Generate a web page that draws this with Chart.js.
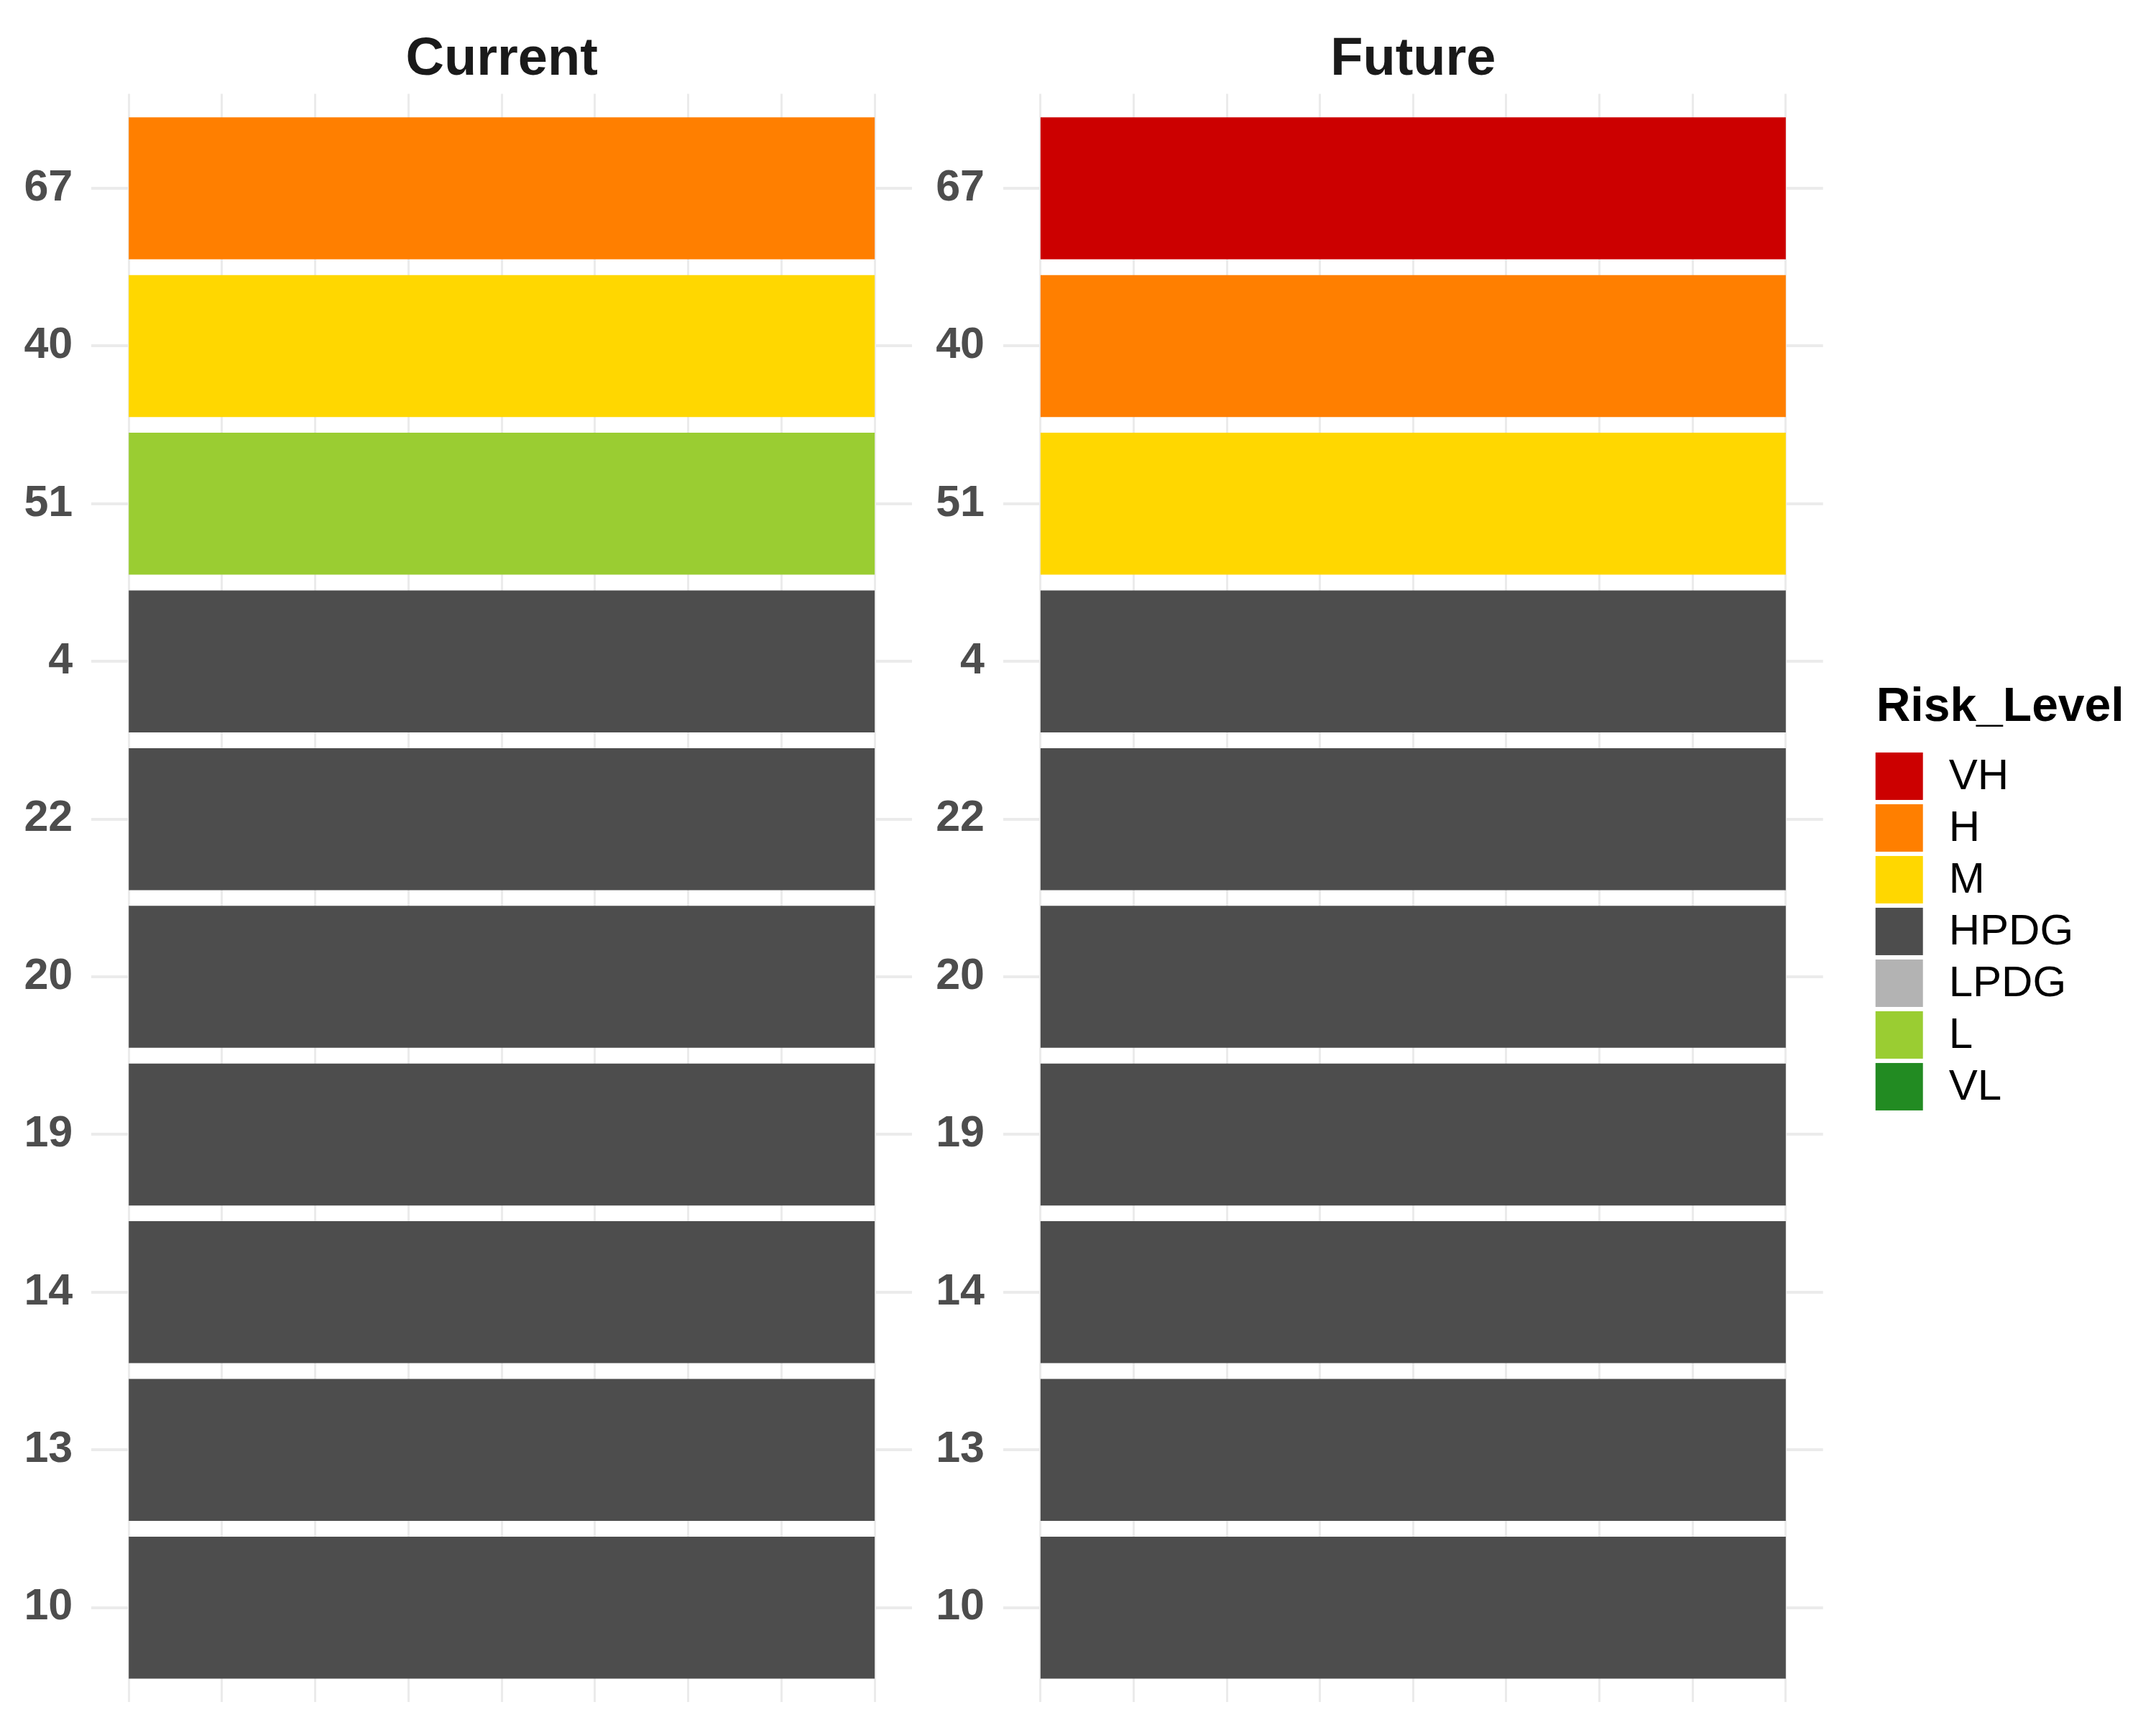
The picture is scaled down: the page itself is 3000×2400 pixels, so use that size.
<!DOCTYPE html>
<html>
<head>
<meta charset="utf-8">
<script src="https://cdn.jsdelivr.net/npm/chart.js@4/dist/chart.umd.min.js"></script>
<style>
  html, body { margin: 0; padding: 0; background: #ffffff; }
  body { width: 3000px; height: 2400px; position: relative; overflow: hidden; }
  canvas { position: absolute; top: 0; }
  #cCurrent { left: 0; }
  #cFuture { left: 1300px; }
</style>
</head>
<body>
<canvas id="cCurrent" width="1300" height="2400"></canvas>
<canvas id="cFuture" width="1700" height="2400"></canvas>
<script>
// ---- data ----
const sites = ['67', '40', '51', '4', '22', '20', '19', '14', '13', '10'];
const currentRisk = ['H', 'M', 'L', 'HPDG', 'HPDG', 'HPDG', 'HPDG', 'HPDG', 'HPDG', 'HPDG'];
const futureRisk  = ['VH', 'H', 'M', 'HPDG', 'HPDG', 'HPDG', 'HPDG', 'HPDG', 'HPDG', 'HPDG'];
const panelTitles = ['Current', 'Future'];
const riskLevels = ['VH', 'H', 'M', 'HPDG', 'LPDG', 'L', 'VL'];
const riskColors = ['#CC0000', '#FF7F00', '#FFD700', '#4D4D4D', '#B3B3B3', '#9ACD32', '#228B22'];
const tileX = 1;          // single tile column
const tileWidth = 1;
const xBreaks = [0.5, 0.625, 0.75, 0.875, 1, 1.125, 1.25, 1.375, 1.5];

const colorOf = r => riskColors[riskLevels.indexOf(r)];
const FONT = "'Liberation Sans', Arial, Helvetica, sans-serif";

function buildData(risks) {
  return {
    datasets: [{
      data: sites.map((s, i) => ({ y: i + 1, x: [tileX - tileWidth / 2, tileX + tileWidth / 2] })),
      backgroundColor: risks.map(colorOf),
      borderWidth: 0,
      categoryPercentage: 1,
      barPercentage: 0.9
    }]
  };
}

const legendPlugin = {
  id: 'riskLegend',
  afterDraw(chart, args, opts) {
    if (!opts || !opts.show) return;
    const ctx = chart.ctx;
    const ca = chart.chartArea;
    const x0 = ca.right + 73;
    const keySize = 66, keyStep = 72;
    const titleH = 72;
    const blockH = titleH + riskLevels.length * keyStep;
    const midY = (ca.top + ca.bottom) / 2;
    const top = midY - blockH / 2 - 6.4;
    ctx.save();
    ctx.fillStyle = '#000000';
    ctx.font = 'bold 66px ' + FONT;
    ctx.textAlign = 'left';
    ctx.textBaseline = 'alphabetic';
    ctx.fillText('Risk_Level', x0 + 1, top + 48);
    ctx.font = '60px ' + FONT;
    ctx.textBaseline = 'middle';
    riskLevels.forEach((lv, i) => {
      const y = top + titleH + 20 + i * keyStep;
      ctx.fillStyle = riskColors[i];
      ctx.fillRect(x0, y, keySize, keySize);
      ctx.fillStyle = '#000000';
      ctx.fillText(lv, x0 + 102, y + keySize / 2 + 2);
    });
    ctx.restore();
  }
};

function makeChart(id, risks, title, yAxisWidth, padRight, showLegend) {
  return new Chart(document.getElementById(id), {
    type: 'bar',
    data: buildData(risks),
    plugins: [legendPlugin],
    options: {
      indexAxis: 'y',
      responsive: false,
      animation: false,
      devicePixelRatio: 1,
      layout: { padding: { top: 0, left: 0, right: padRight, bottom: 31.7 } },
      plugins: {
        legend: { display: false },
        tooltip: { enabled: false },
        title: {
          display: true,
          text: title,
          fullSize: false,
          color: '#1A1A1A',
          font: { family: FONT, size: 74, weight: 'bold', lineHeight: 1.2 },
          padding: { top: 39, bottom: 2.6 }
        },
        riskLegend: { show: showLegend }
      },
      scales: {
        x: {
          type: 'linear',
          min: 0.45,
          max: 1.55,
          afterBuildTicks: s => { s.ticks = xBreaks.map(v => ({ value: v })); },
          afterFit: s => { s.height = 0; s.paddingLeft = 0; s.paddingRight = 0; },
          ticks: { display: false },
          border: { display: false },
          grid: { color: '#EBEBEB', lineWidth: 3, drawTicks: false }
        },
        y: {
          type: 'linear',
          reverse: true,
          offset: false,
          min: 0.4,
          max: sites.length + 0.6,
          afterBuildTicks: s => { s.ticks = sites.map((_, i) => ({ value: i + 1 })); },
          afterFit: s => { s.width = yAxisWidth; s.paddingTop = 0; s.paddingBottom = 0; },
          ticks: {
            callback: v => sites[v - 1],
            color: '#4D4D4D',
            font: { family: FONT, size: 61, weight: 'bold' },
            padding: 26,
            autoSkip: false
          },
          border: { display: false },
          grid: { color: '#EBEBEB', lineWidth: 4, drawTicks: false, offset: false }
        }
      }
    }
  });
}

makeChart('cCurrent', currentRisk, panelTitles[0], 127.3, 31, false);
makeChart('cFuture', futureRisk, panelTitles[1], 96, 463.3, true);
</script>
</body>
</html>
